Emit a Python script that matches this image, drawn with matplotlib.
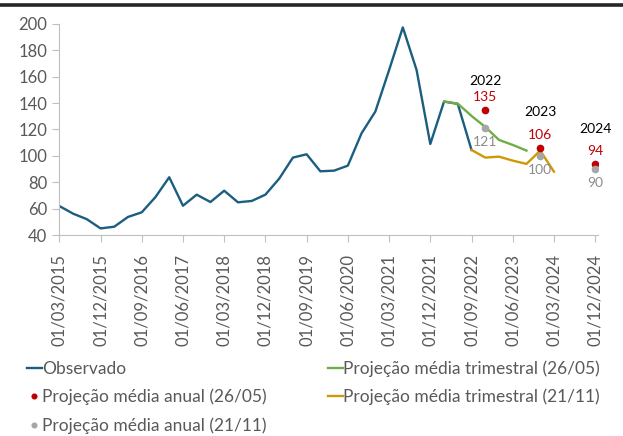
import numpy as np
import matplotlib
matplotlib.use("Agg")
import matplotlib.pyplot as plt
from matplotlib.lines import Line2D
from matplotlib.transforms import ScaledTranslation

plt.rcParams['font.family'] = ['Lato', 'DejaVu Sans']

# quarterly dates, 01/03/2015 .. 01/12/2024
dates = []
for y in range(2015, 2025):
    for m in ["03", "06", "09", "12"]:
        dates.append("01/%s/%d" % (m, y))

observado = [62, 56.2, 52, 45, 46.3, 53.7, 57.2, 68.8, 83.8, 62.2, 70.6, 65, 73.6,
             64.8, 65.8, 70.6, 82.7, 98.7, 101.2, 88.3, 88.8, 92.6, 117.2, 133.6,
             165, 197.4, 165.2, 109, 141.2, 139.4, 104.5]
trim_2605 = [141.2, 139.6, 130.3, 121.9, 112.1, 108.3, 104]      # from 01/03/2022
trim_2111 = [104.5, 98.7, 99.4, 96.4, 93.9, 104, 88]             # from 01/09/2022
anos = ["2022", "2023", "2024"]
anual_2605 = [135, 106, 94]
anual_2111 = [121, 100, 90]
anual_idx = [dates.index("01/12/2022"), dates.index("01/12/2023"), dates.index("01/12/2024")]

c_obs = "#1B5E7F"
c_green = "#70AD47"
c_gold = "#CC9A06"
c_red = "#C00000"
c_gray = "#A6A6A6"

fig = plt.figure(figsize=(6.23, 4.36), dpi=100)
ax = fig.add_axes([0.0952, 0.461, 0.865, 0.484])

x = np.arange(len(dates))
ax.plot(x[:len(observado)], observado, color=c_obs, lw=1.7, label="Observado")
s = dates.index("01/03/2022")
ax.plot(x[s:s + len(trim_2605)], trim_2605, color=c_green, lw=1.7,
        label="Projeção média trimestral (26/05)")
s = dates.index("01/09/2022")
ax.plot(x[s:s + len(trim_2111)], trim_2111, color=c_gold, lw=1.7,
        label="Projeção média trimestral (21/11)")
ax.plot(anual_idx, anual_2605, 'o', color=c_red, ms=4.5, label="Projeção média anual (26/05)")
ax.plot(anual_idx, anual_2111, 'o', color=c_gray, ms=4.5, label="Projeção média anual (21/11)")

# labels on the annual points
year_off = [21, 26, 25]
for i in range(len(anos)):
    ax.annotate(anual_2605[i], (anual_idx[i], anual_2605[i]), xytext=(0, 9), textcoords="offset points",
                ha="center", va="center", color=c_red, fontsize=10)
    ax.annotate(anual_2111[i], (anual_idx[i], anual_2111[i]), xytext=(0, -10), textcoords="offset points",
                ha="center", va="center", color="#8C8C8C", fontsize=10)
    ax.annotate(anos[i], (anual_idx[i], anual_2605[i]), xytext=(0, year_off[i]), textcoords="offset points",
                ha="center", va="center", color="black", fontsize=10)

ax.set_ylim(40, 200)
ax.set_yticks(range(40, 201, 20))
ax.set_xlim(0, 39.22)
ax.set_xticks(x[::3])
ax.set_xticklabels(dates[::3], rotation=90)
for lb in ax.get_xticklabels():
    lb.set_transform(lb.get_transform() + ScaledTranslation(5 / 100, 0, fig.dpi_scale_trans))

for sp in ["top", "right"]:
    ax.spines[sp].set_visible(False)
for sp in ["left", "bottom"]:
    ax.spines[sp].set_color("#BFBFBF")
ax.tick_params(axis="both", colors="#BFBFBF", labelcolor="#595959", labelsize=12, length=5)
ax.tick_params(axis="x", pad=9)

# dark line at the top
fig.add_artist(Line2D([0, 1], [0.9885, 0.9885], transform=fig.transFigure, color="#262626", lw=2.6))

h, l = ax.get_legend_handles_labels()
order = [0, 3, 4, 1, 2]
fig.legend([h[i] for i in order], [l[i] for i in order], ncol=2, frameon=False,
           loc="upper left", bbox_to_anchor=(0.043, 0.174), fontsize=12.5,
           handlelength=0.85, handletextpad=0.05, columnspacing=3.5, labelspacing=0.7,
           markerscale=0.75, labelcolor="#595959", borderaxespad=0, borderpad=0)

fig.savefig("out.png", dpi=100)
